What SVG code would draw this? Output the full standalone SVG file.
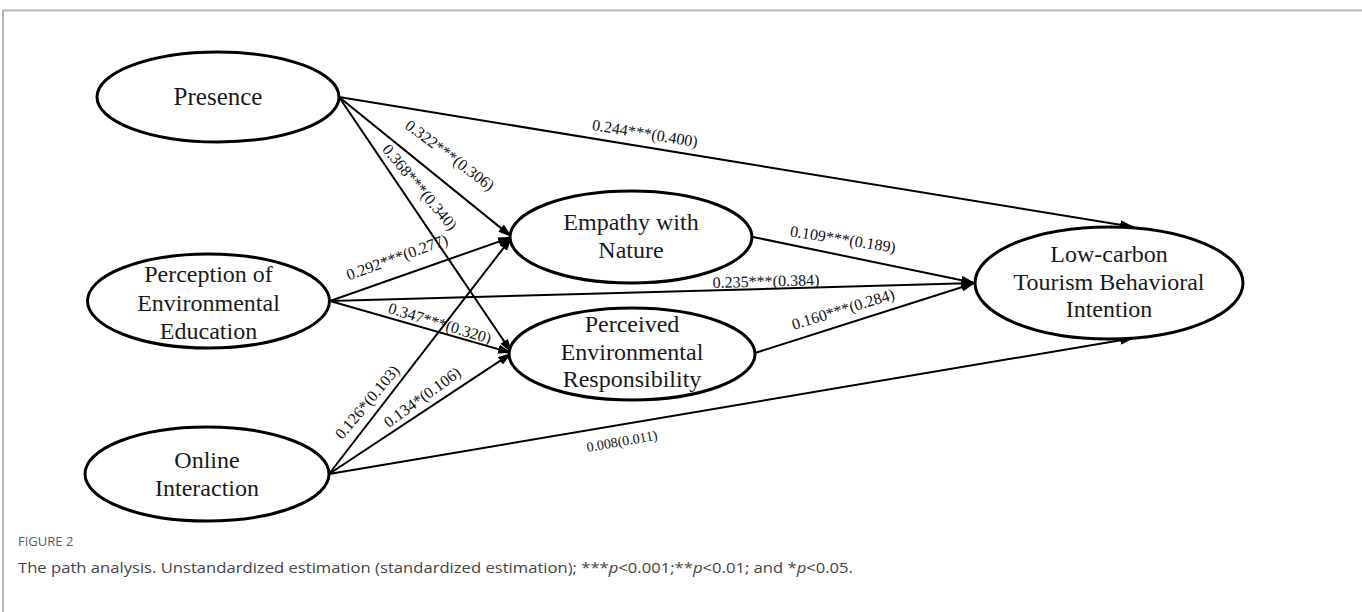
<svg xmlns="http://www.w3.org/2000/svg" width="1362" height="612" viewBox="0 0 1362 612">
<defs>
<marker id="ah" viewBox="0 0 14 9" refX="14" refY="4.5" markerWidth="14" markerHeight="9" markerUnits="userSpaceOnUse" orient="auto">
<path d="M0,0 L14,4.5 L0,9 z" fill="#000"/>
</marker>
<style>
.node ellipse{fill:#fff;stroke:#000;stroke-width:3}
.node text{font-family:"Liberation Serif","Times New Roman",serif;font-size:24px;fill:#1a1a1a;text-anchor:middle}
.edges line{stroke:#000;stroke-width:2;marker-end:url(#ah)}
.lbl{font-family:"Liberation Serif","Times New Roman",serif;font-size:16px;fill:#111;text-anchor:middle}
.cap1{font-family:"Open Sans","Liberation Sans",sans-serif;font-size:13px;fill:#5a5a5a}
.cap2{font-family:"Open Sans","Liberation Sans",sans-serif;font-size:15px;fill:#444}
</style>
</defs>
<rect width="1362" height="612" fill="#fff"/>
<path d="M3,612 V10.5 H1362" fill="none" stroke="#b5b5b5" stroke-width="2"/>

<g class="edges" id="connectors">
<line x1="339" y1="97" x2="1134" y2="227"/>
<line x1="339" y1="97" x2="512" y2="237"/>
<line x1="339" y1="97" x2="512" y2="353"/>
<line x1="330" y1="301" x2="512" y2="237"/>
<line x1="330" y1="301" x2="975" y2="283"/>
<line x1="330" y1="301" x2="512" y2="353"/>
<line x1="329" y1="474" x2="512" y2="237"/>
<line x1="329" y1="474" x2="512" y2="353"/>
<line x1="329" y1="474" x2="1134" y2="338"/>
<line x1="753" y1="237" x2="975" y2="283"/>
<line x1="755" y1="353" x2="975" y2="283"/>
</g>

<g id="labels">
<text class="lbl" transform="translate(645,133) rotate(9.3)" dy="0.35em">0.244***(0.400)</text>
<text class="lbl" transform="translate(450,155) rotate(37)" dy="0.35em">0.322***(0.306)</text>
<text class="lbl" transform="translate(420,187) rotate(50)" dy="0.35em">0.368***(0.340)</text>
<text class="lbl" transform="translate(397,257) rotate(-20)" dy="0.35em">0.292***(0.277)</text>
<text class="lbl" transform="translate(440,323) rotate(17)" dy="0.35em">0.347***(0.320)</text>
<text class="lbl" transform="translate(766,281) rotate(-1.6)" dy="0.35em">0.235***(0.384)</text>
<text class="lbl" transform="translate(367,402) rotate(-50)" dy="0.35em">0.126*(0.103)</text>
<text class="lbl" transform="translate(422,397) rotate(-36)" dy="0.35em">0.134*(0.106)</text>
<text class="lbl" transform="translate(622,441) rotate(-10)" dy="0.35em" style="font-size:14px">0.008(0.011)</text>
<text class="lbl" transform="translate(843,239) rotate(9)" dy="0.35em">0.109***(0.189)</text>
<text class="lbl" transform="translate(843,309) rotate(-17)" dy="0.35em">0.160***(0.284)</text>
</g>

<g class="node" id="presence">
<ellipse cx="218" cy="97" rx="121" ry="45"/>
<text x="218" y="105" style="font-size:25px">Presence</text>
</g>
<g class="node" id="perception">
<ellipse cx="208.5" cy="301" rx="121" ry="47"/>
<text x="208.5" y="282">Perception of</text>
<text x="208.5" y="311">Environmental</text>
<text x="208.5" y="339">Education</text>
</g>
<g class="node" id="online">
<ellipse cx="207" cy="474" rx="122" ry="47"/>
<text x="207" y="468">Online</text>
<text x="207" y="496">Interaction</text>
</g>
<g class="node" id="empathy">
<ellipse cx="631" cy="237" rx="121" ry="46"/>
<text x="631" y="230">Empathy with</text>
<text x="631" y="258">Nature</text>
</g>
<g class="node" id="responsibility">
<ellipse cx="632" cy="354" rx="123" ry="46"/>
<text x="632" y="332">Perceived</text>
<text x="632" y="360">Environmental</text>
<text x="632" y="387">Responsibility</text>
</g>
<g class="node" id="intention">
<ellipse cx="1109" cy="283" rx="134" ry="56"/>
<text x="1109" y="262">Low-carbon</text>
<text x="1109" y="290">Tourism Behavioral</text>
<text x="1109" y="317">Intention</text>
</g>

<g id="caption">
<text class="cap1" x="18" y="546">FIGURE 2</text>
<text class="cap2" x="18" y="573" textLength="835" lengthAdjust="spacingAndGlyphs">The path analysis. Unstandardized estimation (standardized estimation); ***<tspan font-style="italic">p</tspan>&lt;0.001;**<tspan font-style="italic">p</tspan>&lt;0.01; and *<tspan font-style="italic">p</tspan>&lt;0.05.</text>
</g>
</svg>
